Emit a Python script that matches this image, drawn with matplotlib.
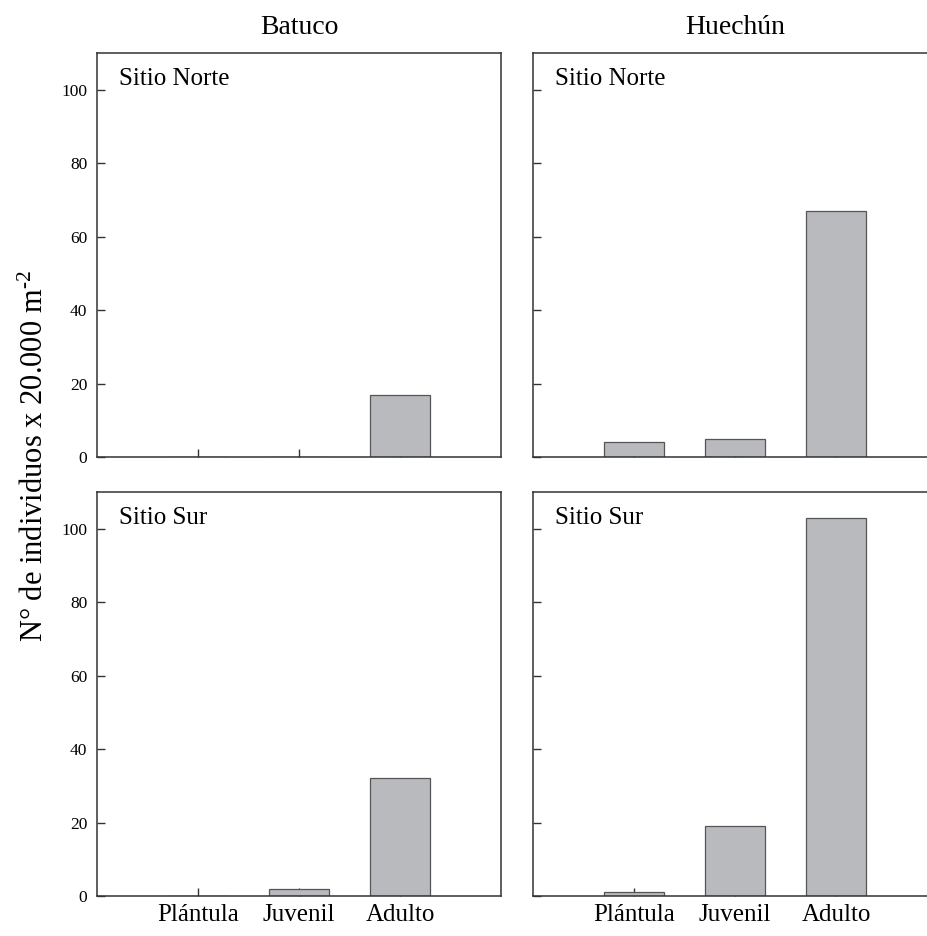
"""Densidad de individuos por estado de desarrollo, Batuco y Huechún (2x2 paneles)."""

import matplotlib
matplotlib.use("Agg")

import matplotlib.pyplot as plt
import numpy as np

plt.rcParams.update(
    {
        "font.family": ["Liberation Serif", "DejaVu Serif"],
        "mathtext.fontset": "custom",
        "mathtext.rm": "Liberation Serif",
        "mathtext.it": "Liberation Serif:italic",
        "axes.linewidth": 1.1,
        "axes.edgecolor": "#333333",
    }
)

# ---------------------------------------------------------------------------
# Datos
# ---------------------------------------------------------------------------
estados = ["Plántula", "Juvenil", "Adulto"]
localidades = ["Batuco", "Huechún"]
sitios = ["Sitio Norte", "Sitio Sur"]

batuco_norte = [0, 0, 17]
huechun_norte = [4, 5, 67]
batuco_sur = [0, 2, 32]
huechun_sur = [1, 19, 103]

y_ticks = [0, 20, 40, 60, 80, 100]

valores = [[batuco_norte, huechun_norte], [batuco_sur, huechun_sur]]

# ---------------------------------------------------------------------------
# Figura
# ---------------------------------------------------------------------------
W, H = 927, 936
fig = plt.figure(figsize=(W / 100, H / 100), dpi=100)

BAR_COLOR = "#b9babe"
EDGE_COLOR = "#555555"

# cajas de los ejes en pixeles: izquierda, arriba, ancho, alto
x_lefts = [97, 533]
y_tops = [53, 492]
AX_W, AX_H = 404, 404

x = np.arange(1, len(estados) + 1)

for i, fila in enumerate(valores):
    for j, serie in enumerate(fila):
        left = x_lefts[j] / W
        bottom = 1 - (y_tops[i] + AX_H) / H
        ax = fig.add_axes([left, bottom, AX_W / W, AX_H / H])
        ax.set_axisbelow(True)

        ax.bar(x, serie, width=0.6, color=BAR_COLOR, edgecolor=EDGE_COLOR,
               linewidth=0.9, zorder=1)

        ax.set_xlim(0, 4)
        ax.set_ylim(0, 110)
        ax.set_yticks(y_ticks)
        ax.set_xticks(x)

        ax.tick_params(axis="both", direction="in", length=6, width=1.0,
                       color="#333333")
        ax.tick_params(axis="y", labelsize=12.5, pad=7)
        ax.tick_params(axis="x", labelsize=18, pad=6)

        if j == 1:
            ax.set_yticklabels([])
        if i == 0:
            ax.set_xticklabels([])
            ax.set_title(localidades[j], fontsize=20, pad=14)
        else:
            ax.set_xticklabels(estados)

        ax.text(22 / AX_W, 1 - 15 / AX_H, sitios[i], transform=ax.transAxes,
                ha="left", va="top", fontsize=18)

fig.text(35 / W, 1 - 456 / H, "N° de individuos x 20.000 m$^{\u20102}$",
         rotation=90, ha="center", va="center", fontsize=22)

fig.savefig("out.png", dpi=100)
plt.close(fig)
